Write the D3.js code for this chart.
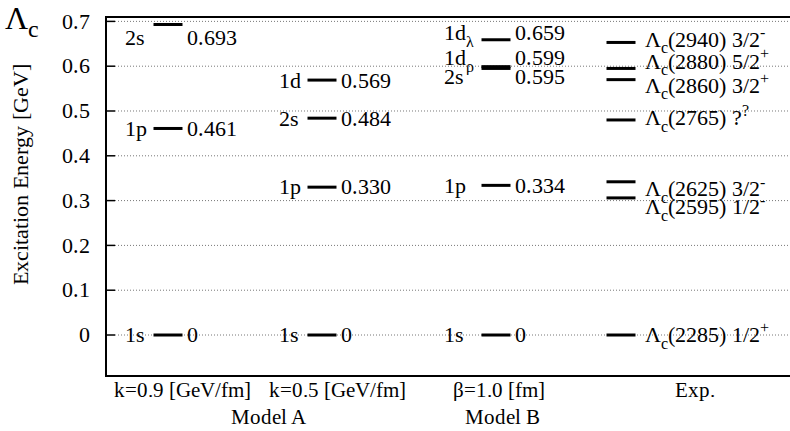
<!DOCTYPE html>
<html>
<head>
<meta charset="utf-8">
<script src="https://cdn.jsdelivr.net/npm/d3@7"></script>
<style>
  @font-face {
    font-family: "ChartSerif";
    src: local("Liberation Serif"), local("LiberationSerif-Regular"), local("LiberationSerif"), local("Tinos"), local("Times New Roman");
  }
  html, body { margin: 0; padding: 0; background: #fff; }
</style>
</head>
<body>
<svg id="chart" width="790" height="431"></svg>
<script>
// Λc excitation spectrum: two quark-model variants vs. experiment
const columns = ["k=0.9 [GeV/fm]", "k=0.5 [GeV/fm]", "β=1.0 [fm]", "Exp."];
const modelNames = ["Model A", "Model B"];
const yTicks = [0, 0.1, 0.2, 0.3, 0.4, 0.5, 0.6, 0.7];

// markup: _x subscript, ^x superscript
const statesA09 = ["1s", "1p", "2s"];
const valuesA09 = [0, 0.461, 0.693];

const statesA05 = ["1s", "1p", "2s", "1d"];
const valuesA05 = [0, 0.330, 0.484, 0.569];

const statesB = ["1s", "1p", "2s", "1d_ρ", "1d_λ"];
const valuesB = [0, 0.334, 0.595, 0.599, 0.659];

const statesExp = ["Λ_c(2285) 1/2^+", "Λ_c(2595) 1/2^-", "Λ_c(2625) 3/2^-", "Λ_c(2765) ?^?",
                   "Λ_c(2860) 3/2^+", "Λ_c(2880) 5/2^+", "Λ_c(2940) 3/2^-"];
const valuesExp = [0, 0.306, 0.342, 0.480, 0.570, 0.595, 0.653];

// ---- layout ----
const plot = { left: 106, right: 790, top: 17, bottom: 376 };
const FS = 22;
const barHalf = 14.5;
const FONT = 'ChartSerif, "Liberation Serif", Times, Tinos, serif';

// vertical nudges (px) for the labels of crowded levels
const shiftA09 = [0, 0, 13];
const shiftA05 = [0, 0, 1, 1];
const shiftB = [0, 0, 8, -9, -7];
const shiftExp = [0, 9, 7, -2, 6, -7, -3];

const y = d3.scaleLinear().domain([-0.0915, 0.7098]).range([plot.bottom, plot.top]);
const barX = d3.scaleOrdinal().domain(columns).range([168, 322, 496, 621]);
const nameX = d3.scaleOrdinal().domain(columns).range([125, 279, 444, 645]);
const catX = d3.scaleOrdinal().domain(columns).range([182, 337, 499, 695]);
const modelX = d3.scaleOrdinal().domain(modelNames).range([268, 502]);

const fmt = v => v === 0 ? "0" : d3.format(".3f")(v);

function draw() {
  const svg = d3.select("#chart");
  svg.selectAll("*").remove();

  // text element in the serif face
  const txt = (parent, size) => parent.append("text")
    .style("font-family", FONT).style("font-size", size + "px");

  // grid lines with short solid inward ticks
  const grid = svg.append("g");
  grid.selectAll("line.grid").data(yTicks).join("line")
    .attr("x1", plot.left + 9).attr("x2", plot.right)
    .attr("y1", d => y(d)).attr("y2", d => y(d))
    .attr("stroke", "#777").attr("stroke-width", 1)
    .attr("stroke-dasharray", "1,2");
  grid.selectAll("line.tick").data(yTicks).join("line")
    .attr("x1", plot.left).attr("x2", plot.left + 9)
    .attr("y1", d => y(d)).attr("y2", d => y(d))
    .attr("stroke", "#000").attr("stroke-width", 1.5);

  // y tick labels
  const tickG = svg.append("g");
  yTicks.forEach(d => {
    txt(tickG, FS).attr("x", 90).attr("y", y(d) + FS * 0.33)
      .attr("text-anchor", "end")
      .text(d === 0 ? "0" : d3.format(".1f")(d));
  });

  // frame
  const frame = svg.append("g").attr("stroke", "#000").attr("stroke-width", 2);
  frame.append("line").attr("x1", plot.left).attr("x2", plot.left).attr("y1", plot.top - 1).attr("y2", plot.bottom + 1);
  frame.append("line").attr("x1", plot.left).attr("x2", plot.right).attr("y1", plot.top).attr("y2", plot.top);
  frame.append("line").attr("x1", plot.left).attr("x2", plot.right).attr("y1", plot.bottom).attr("y2", plot.bottom);

  // rich text: plain runs, _sub and ^sup
  function richText(sel, str, size) {
    const re = /([_^])(.)|([^_^]+)/g;
    let m, shift = 0;
    while ((m = re.exec(str)) !== null) {
      if (m[3]) {
        const t = sel.append("tspan").style("font-size", size + "px").text(m[3]);
        if (shift) { t.attr("dy", -shift); shift = 0; }
      } else {
        const small = size * 0.72;
        const d = m[1] === "_" ? size * 0.3 : -size * 0.42;
        sel.append("tspan").style("font-size", small + "px").attr("dy", d - shift).text(m[2]);
        shift = d;
      }
    }
  }

  function drawColumn(col, states, values, shifts, showValues) {
    const g = svg.append("g");
    const cx = barX(col);
    values.forEach((v, i) => {
      g.append("line")
        .attr("x1", cx - barHalf).attr("x2", cx + barHalf)
        .attr("y1", y(v)).attr("y2", y(v))
        .attr("stroke", "#000").attr("stroke-width", 3);
      const ty = y(v) + shifts[i] + FS * 0.33;
      const t = txt(g, FS).attr("x", nameX(col)).attr("y", ty);
      richText(t, states[i], FS);
      if (showValues) {
        txt(g, FS).attr("x", cx + barHalf + 4).attr("y", ty).text(fmt(v));
      }
    });
  }

  drawColumn(columns[0], statesA09, valuesA09, shiftA09, true);
  drawColumn(columns[1], statesA05, valuesA05, shiftA05, true);
  drawColumn(columns[2], statesB, valuesB, shiftB, true);
  drawColumn(columns[3], statesExp, valuesExp, shiftExp, false);

  // category and model labels
  const catG = svg.append("g");
  columns.forEach(d => {
    txt(catG, 20.5).attr("x", catX(d)).attr("y", 397).attr("text-anchor", "middle").text(d);
  });
  modelNames.forEach(d => {
    txt(catG, 20.5).attr("x", modelX(d)).attr("y", 424).attr("text-anchor", "middle").text(d);
  });

  // axis title
  txt(svg, 21.5).attr("transform", "translate(28,174) rotate(-90)")
    .attr("text-anchor", "middle")
    .text("Excitation Energy [GeV]");

  // baryon symbol
  const title = txt(svg, 32).attr("x", 5).attr("y", 29);
  title.append("tspan").style("font-size", "32px").text("Λ");
  title.append("tspan").style("font-size", "24px").attr("dy", 8).text("c");
}

draw();
if (document.fonts && document.fonts.load) {
  document.fonts.load('22px ChartSerif').then(draw).catch(() => {});
}
</script>
</body>
</html>
